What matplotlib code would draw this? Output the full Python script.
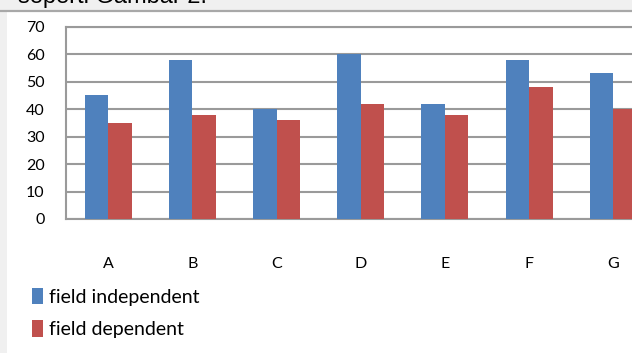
import matplotlib
matplotlib.use("Agg")
import matplotlib.pyplot as plt
from matplotlib.patches import Rectangle
import numpy as np

categories = ["A", "B", "C", "D", "E", "F", "G"]
field_independent = [45, 58, 40, 60, 42, 58, 53]
field_dependent = [35, 38, 36, 42, 38, 48, 40]
series_labels = ["field independent", "field dependent"]
y_ticks = [0, 10, 20, 30, 40, 50, 60, 70]

W, H = 632, 353
fig = plt.figure(figsize=(W / 100, H / 100), dpi=100)
fig.patch.set_facecolor("white")
FONT = ["Lato", "DejaVu Sans"]

# page decorations: top gray band with cut text, left strip
fig.patches.append(Rectangle((0, 1 - 11 / H), 1, 11 / H, transform=fig.transFigure,
                             facecolor="#f0f0f0", edgecolor="none", zorder=0))
fig.patches.append(Rectangle((0, 0), 7 / W, 1 - 11 / H, transform=fig.transFigure,
                             facecolor="#f0f0f0", edgecolor="none", zorder=0))
fig.lines.append(plt.Line2D([0, 1], [1 - 11 / H, 1 - 11 / H], transform=fig.transFigure,
                            color="#a8a8a8", lw=1.6))
fig.text(18 / W, 1 - 3.5 / H, "seperti Gambar 2.", fontsize=17, family=["Liberation Sans", "DejaVu Sans"],
         va="baseline", ha="left", color="black")

left = 66.2 / W
bottom = 1 - 219 / H
width = 589.2 / W
height = (219 - 26.7) / H
ax = fig.add_axes([left, bottom, width, height])

x = np.arange(len(categories))
bw = 0.279
ax.bar(x - bw / 2, field_independent, bw, color="#4f81bd", label=series_labels[0], zorder=3)
ax.bar(x + bw / 2, field_dependent, bw, color="#c0504d", label=series_labels[1], zorder=3)

ax.set_xlim(-0.5, len(categories) - 0.5)
ax.set_ylim(0, 70)
ax.set_yticks(y_ticks)
ax.set_xticks(x)
ax.set_xticklabels(categories, family=FONT, fontsize=11.5)
ax.set_yticklabels([str(v) for v in y_ticks], family=FONT, fontsize=11.5)
ax.tick_params(axis="both", length=0)
ax.tick_params(axis="y", pad=15.5)
ax.tick_params(axis="x", pad=27)
ax.yaxis.grid(True, color="#9a9a9a", lw=1.5, zorder=1)
ax.set_axisbelow(True)
for s in ax.spines.values():
    s.set_color("#9a9a9a")
    s.set_linewidth(1.5)

handles, labels = ax.get_legend_handles_labels()
leg = fig.legend(handles, labels, loc="upper left", bbox_to_anchor=(32 / W, 1 - 288 / H),
                 frameon=False, handlelength=0.55, handleheight=0.9, handletextpad=0.3,
                 labelspacing=0.75, prop={"family": FONT, "size": 14}, borderaxespad=0,
                 borderpad=0)

fig.savefig("out.png", dpi=100)
